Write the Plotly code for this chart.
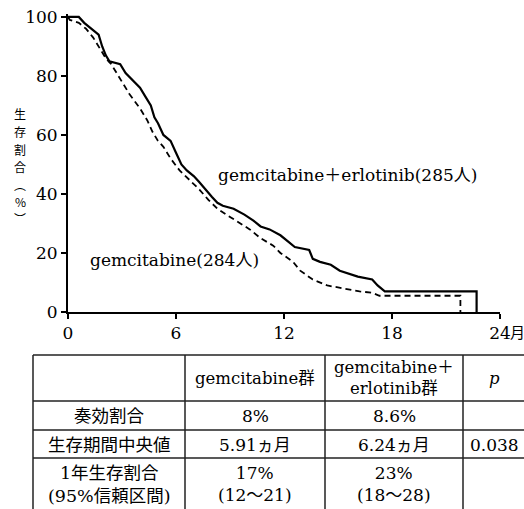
import plotly.graph_objects as go

# ---------------- data ----------------
erl_t = [0, 0.6, 0.9, 1.3, 1.7, 1.9, 2.1, 2.3, 2.9, 3.2, 3.5, 4.0, 4.3, 4.6, 4.8, 5.0, 5.3, 5.7,
         6.0, 6.3, 6.6, 7.0, 7.3, 7.7, 8.0, 8.3, 8.6, 9.2, 9.8, 10.3, 10.7, 11.2, 11.8, 12.2,
         12.6, 13.4, 13.6, 14.0, 14.6, 15.1, 15.6, 16.1, 16.9, 17.2, 17.6, 22.7, 22.7]
erl_s = [100, 100, 98, 96, 94, 90, 87, 85, 84, 81, 79, 76, 73, 70, 66, 64, 60, 58,
         54, 50, 48, 46, 44, 41, 39, 37, 36, 35, 33, 31, 29, 28, 26, 24,
         22, 21, 18, 17, 16, 14, 13, 12, 11, 9, 7, 7, 0]

gem_t = [0, 0.1, 0.6, 1.0, 1.4, 1.8, 2.1, 2.4, 2.9, 3.4, 4.0, 4.4, 4.7, 5.0, 5.3, 5.7, 6.2,
         6.7, 7.3, 7.8, 8.3, 8.8, 9.2, 10.1, 10.7, 11.4, 11.8, 12.5, 12.9, 13.6, 14.4, 15.3,
         16.2, 16.9, 17.3, 21.8, 21.8]
gem_s = [100, 99, 98, 96, 93, 89, 86, 84, 79, 74, 69, 65, 61, 58, 56, 52, 48,
         45, 41.5, 38, 35, 33, 31.5, 28, 25, 22.5, 20, 17, 14, 11, 9, 8,
         7, 6.5, 5.5, 5.5, 0]

x_ticks = [0, 6, 12, 18, 24]
x_ticktext = ["0", "6", "12", "18", "24"]
x_unit = "月"
y_ticks = [0, 20, 40, 60, 80, 100]

y_title_chars = ["生", "存", "割", "合", "︵", "%", "︶"]

label_erl = "gemcitabine＋erlotinib(285人)"
label_gem = "gemcitabine(284人)"

table_header = ["", "gemcitabine群", "gemcitabine＋<br>erlotinib群", "<i>p</i>"]
table_rows = [
    ["奏効割合", "8%", "8.6%", ""],
    ["生存期間中央値", "5.91ヵ月", "6.24ヵ月", "0.038"],
    ["1年生存割合<br>(95%信頼区間)", "17%<br>(12〜21)", "23%<br>(18〜28)", ""],
]

# ---------------- layout geometry ----------------
W, H = 524, 509
L, R, T, B = 68, 24, 14, 197
PW = W - L - R
PH = H - T - B
Y0 = H - B  # pixel row of y=0


def xp(px):
    return (px - L) / PW


def yp(py):
    return (Y0 - py) / PH


FONT = "DejaVu Serif, Noto Sans CJK JP"
CJK = "Noto Sans CJK JP"

fig = go.Figure()
fig.add_trace(go.Scatter(x=gem_t, y=gem_s, mode="lines",
                         line=dict(color="black", width=1.8, dash="6px,4px"),
                         showlegend=False, hoverinfo="skip"))
fig.add_trace(go.Scatter(x=erl_t, y=erl_s, mode="lines",
                         line=dict(color="black", width=2.2),
                         showlegend=False, hoverinfo="skip"))

annotations = []
annotations.append(dict(x=15.5, y=46.3, xref="x", yref="y", text=label_erl, showarrow=False,
                        font=dict(family=FONT, size=17, color="black")))
annotations.append(dict(x=5.94, y=17.6, xref="x", yref="y", text=label_gem, showarrow=False,
                        font=dict(family=FONT, size=17, color="black")))

# vertical y-axis title, one character per annotation
for i, ch in enumerate(y_title_chars):
    annotations.append(dict(x=xp(20), y=yp(114 + 17.5 * i), xref="paper", yref="paper",
                            text=ch, showarrow=False, xanchor="center", yanchor="middle",
                            font=dict(family=CJK, size=12, color="black")))
annotations.append(dict(x=xp(508), y=yp(331), xref="paper", yref="paper", text=x_unit,
                        showarrow=False, xanchor="left", yanchor="middle",
                        font=dict(family=CJK, size=15, color="black")))

# ---------------- table ----------------
col_edges = [33, 185, 325, 463, 530]
row_edges = [355, 401, 430, 458, 520]
shapes = []
for py in row_edges[:-1]:
    shapes.append(dict(type="line", xref="paper", yref="paper",
                       x0=xp(col_edges[0]), x1=xp(col_edges[-1]), y0=yp(py), y1=yp(py),
                       line=dict(color="#222", width=1.5)))
for px in col_edges[:-1]:
    shapes.append(dict(type="line", xref="paper", yref="paper",
                       x0=xp(px), x1=xp(px), y0=yp(row_edges[0]), y1=yp(row_edges[-1]),
                       line=dict(color="#222", width=1.5)))

col_centers = [109, 255, 394, 494]
row_centers = [378, 416, 445, 484]
all_rows = [table_header] + table_rows
for ri, row in enumerate(all_rows):
    for ci, txt in enumerate(row):
        if not txt:
            continue
        size = 16.5 if ri == 0 else 17
        if ci == 0:
            size = 17.5
        annotations.append(dict(x=xp(col_centers[ci]), y=yp(row_centers[ri]), xref="paper",
                                yref="paper", text=txt, showarrow=False, xanchor="center",
                                yanchor="middle", align="center",
                                font=dict(family=FONT, size=size, color="black")))

fig.update_layout(
    width=W, height=H,
    margin=dict(l=L, r=R, t=T, b=B, pad=0, autoexpand=False),
    paper_bgcolor="white", plot_bgcolor="white",
    xaxis=dict(range=[0, 24], tickvals=x_ticks, ticktext=x_ticktext, showgrid=False,
               zeroline=False, showline=True, linecolor="black", linewidth=2,
               ticks="outside", ticklen=5, tickwidth=1.5, tickcolor="black",
               ticklabeloverflow="allow", automargin=False,
               tickfont=dict(family=FONT, size=17, color="black")),
    yaxis=dict(range=[0, 101], tickvals=y_ticks, showgrid=False, zeroline=False,
               showline=True, linecolor="black", linewidth=2, ticks="outside", ticklen=5,
               tickwidth=1.5, tickcolor="black", automargin=False,
               tickfont=dict(family=FONT, size=17, color="black")),
    annotations=annotations,
    shapes=shapes,
)

fig.write_html("out.html")
